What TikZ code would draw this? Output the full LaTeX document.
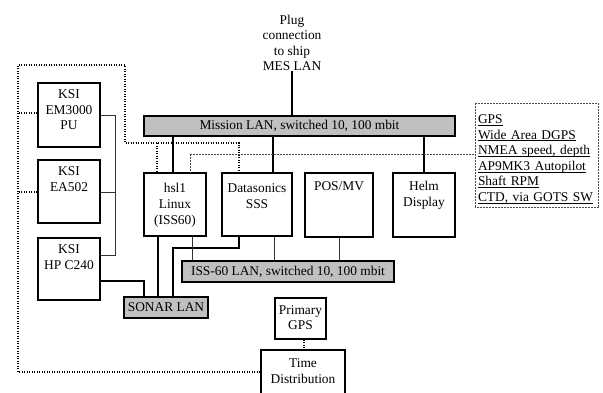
\documentclass[tikz,border=0pt]{standalone}
\usepackage{fontspec}
\setmainfont{Liberation Serif}
\definecolor{lanfill}{RGB}{192,192,192}
\newcommand\ulline[1]{\underline{\smash{#1}}}
\begin{document}
\begin{tikzpicture}[x=1pt,y=-1pt,
  every node/.style={font=\fontsize{13.4}{15.6}\selectfont},
  box/.style={draw,line width=1.1pt,inner sep=0pt,fill=white},
  bar/.style={draw,line width=1.1pt,fill=lanfill,inner sep=0pt},
  lbl/.style={align=center,inner sep=0pt,anchor=north},
  thickc/.style={line width=2pt},
  thinc/.style={line width=0.8pt,draw=black!80},
  dotc/.style={line width=1.2pt,dash pattern=on 1.2pt off 1.3pt},
  finedot/.style={line width=0.6pt,draw=black!70,dash pattern=on 0.6pt off 0.9pt}]
\useasboundingbox (0,0) rectangle (603,392);

% text at top
\node[align=center,inner sep=0pt] (plug) at (292,43) {Plug\\connection\\to ship\\MES LAN};

% LAN bars
\node[bar,minimum width=311pt,minimum height=20pt] (mission) at (299.5,126) {Mission LAN, switched 10, 100 mbit};
\node[bar,minimum width=212pt,minimum height=21pt] (iss) at (288,271.5) {ISS-60 LAN, switched 10, 100 mbit};
\node[bar,minimum width=84pt,minimum height=21pt] (sonar) at (166,307.5) {SONAR LAN};

% boxes
\node[box,minimum width=62pt,minimum height=64pt] (em) at (69,115) {};
\node[lbl] (emt) at ([yshift=-7pt]em.north) {KSI\\EM3000\\PU};
\node[box,minimum width=62pt,minimum height=63pt] (ea) at (69,191.5) {};
\node[lbl] (eat) at ([yshift=-7pt]ea.north) {KSI\\EA502};
\node[box,minimum width=62pt,minimum height=62pt] (hp) at (69,269) {};
\node[lbl] (hpt) at ([yshift=-7pt]hp.north) {KSI\\HP C240};

\node[box,minimum width=62pt,minimum height=63pt] (hsl) at (175,204.5) {};
\node[lbl] (hslt) at ([yshift=-11pt]hsl.north) {hsl1\\Linux\\(ISS60)};
\node[box,minimum width=70pt,minimum height=63pt] (ds) at (257,204.5) {};
\node[lbl] (dst) at ([yshift=-11pt]ds.north) {Datasonics\\SSS};
\node[box,minimum width=68pt,minimum height=64pt] (pos) at (339,205) {};
\node[lbl] (post) at ([yshift=-9pt]pos.north) {POS/MV};
\node[box,minimum width=62pt,minimum height=64pt] (helm) at (424,205) {};
\node[lbl] (helmt) at ([yshift=-9pt]helm.north) {Helm\\Display};

\node[box,minimum width=51pt,minimum height=41pt] (prim) at (300.5,318.5) {};
\node[lbl] (primt) at ([yshift=-7.5pt]prim.north) {Primary\\GPS};
\node[box,minimum width=84pt,minimum height=46pt] (time) at (303,373) {};
\node[lbl] (timet) at ([yshift=-9pt]time.north) {Time\\Distribution};

% GPS list box
\node[finedot,draw,text width=117pt,minimum height=104pt,inner sep=3pt,align=left] (gps) at (536.5,155)
 {\rule{0pt}{17pt}\ulline{GPS}\\\ulline{Wide Area DGPS}\\\ulline{NMEA speed, depth}\\\ulline{AP9MK3 Autopilot}\\\ulline{Shaft RPM}\\\ulline{CTD, via GOTS SW}};

% thick connectors
\draw[thickc] (plug.south) -- (plug.south |- mission.north);
\draw[thickc] (173,0 |- mission.south) -- (173,0 |- hsl.north);
\draw[thickc] (273,0 |- mission.south) -- (273,0 |- ds.north);
\draw[thickc] (helm.north |- mission.south) -- (helm.north);
\draw[thickc] (158,0 |- hsl.south) -- (158,0 |- sonar.north);
\draw[thickc] (239,0 |- ds.south) -- (239,248) -- (173,248) -- (173,0 |- sonar.north);
\draw[thickc] (hp.east |- 0,281) -- (144,281) -- (144,0 |- sonar.north);

% thin connectors
\draw[thinc] (em.east) -- (115,0 |- em.east) -- (115,255) -- (hp.east |- 0,255);
\draw[thinc] (ea.east |- 0,192) -- (115,192);
\draw[thinc] (192,0 |- hsl.south) -- (192,0 |- iss.north);
\draw[thinc] (274,0 |- ds.south) -- (274,0 |- iss.north);
\draw[thinc] (pos.south) -- (pos.south |- iss.north);

% dotted connectors
\draw[dotc] (em.west |- 0,113) -- (18,113);
\draw[dotc] (ea.west |- 0,192) -- (18,192);
\draw[dotc] (time.west |- 0,372) -- (18,372) -- (18,65) -- (125,65) -- (125,143) -- (239,143) -- (239,0 |- ds.north);
\draw[dotc] (157,143) -- (157,0 |- hsl.north);
\draw[dotc] (304,0 |- prim.south) -- (304,0 |- time.north);
\draw[finedot] (190,0 |- hsl.north) -- (190,154) -- (gps.west |- 0,154);
\end{tikzpicture}
\end{document}
